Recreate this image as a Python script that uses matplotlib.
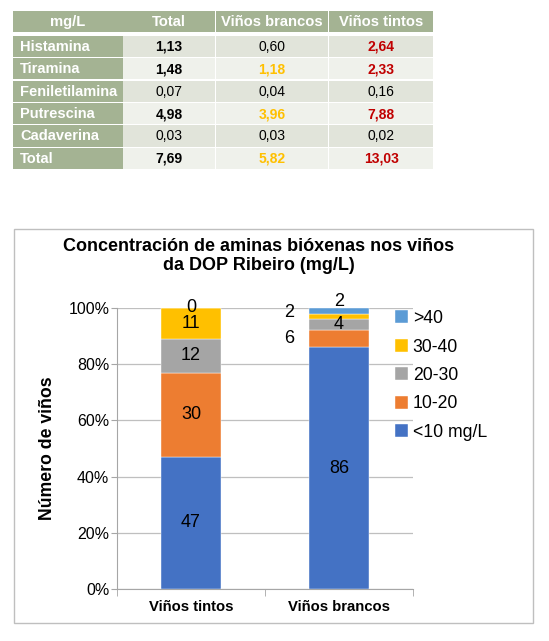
import matplotlib
matplotlib.use("Agg")
import matplotlib.pyplot as plt
from matplotlib.patches import Rectangle
import numpy as np

plt.rcParams['font.family'] = ['Liberation Sans', 'DejaVu Sans']

# ---------------- data ----------------
table_header = ["mg/L", "Total", "Viños brancos", "Viños tintos"]
table_rows = ["Histamina", "Tiramina", "Feniletilamina", "Putrescina", "Cadaverina", "Total"]
col_total = ["1,13", "1,48", "0,07", "4,98", "0,03", "7,69"]
col_brancos = ["0,60", "1,18", "0,04", "3,96", "0,03", "5,82"]
col_tintos = ["2,64", "2,33", "0,16", "7,88", "0,02", "13,03"]
# emphasis: 'b' bold black, 'n' normal black, 'o' bold orange, 'r' bold red
style_total = ["b", "b", "n", "b", "n", "b"]
style_brancos = ["n", "o", "n", "o", "n", "o"]
style_tintos = ["r", "r", "n", "r", "n", "r"]

categories = ["Viños tintos", "Viños brancos"]
series_names = ["<10 mg/L", "10-20", "20-30", "30-40", ">40"]
series_values = {
    "<10 mg/L": [47, 86],
    "10-20": [30, 6],
    "20-30": [12, 4],
    "30-40": [11, 2],
    ">40": [0, 2],
}
series_colors = {
    "<10 mg/L": "#4472C4",
    "10-20": "#ED7D31",
    "20-30": "#A5A5A5",
    "30-40": "#FFC000",
    ">40": "#5B9BD5",
}
y_ticks = [0, 20, 40, 60, 80, 100]
y_ticklabels = ["0%", "20%", "40%", "60%", "80%", "100%"]
title = "Concentración de aminas bióxenas nos viños\nda DOP Ribeiro (mg/L)"
y_label = "Número de viños"

# ---------------- figure ----------------
W, H = 549, 641
fig = plt.figure(figsize=(W / 100, H / 100), dpi=100)

# overlay axes in pixel coordinates for table and frame
ov = fig.add_axes([0, 0, 1, 1])
ov.set_xlim(0, W)
ov.set_ylim(H, 0)
ov.axis("off")

green = "#A4B393"
row_fill = ["#E1E4DA", "#EFF1EB"]
col_edges = [(13.3, 122.7), (123.3, 215), (216, 328.3), (329.3, 433.3)]
header_box = (11, 32)
row_top0, row_h, row_pitch = 35.7, 21.3, 22.4

for ci, (x0, x1) in enumerate(col_edges):
    ov.add_patch(Rectangle((x0, header_box[0]), x1 - x0, header_box[1] - header_box[0],
                           facecolor=green, edgecolor="none"))
    ov.text((x0 + x1) / 2, (header_box[0] + header_box[1]) / 2 + 0.5, table_header[ci],
            ha="center", va="center", color="white", fontweight="bold", fontsize=10.6)

color_map = {"b": ("black", "bold"), "n": ("black", "normal"),
             "o": ("#FFC000", "bold"), "r": ("#C00000", "bold")}
cols = [(col_total, style_total), (col_brancos, style_brancos), (col_tintos, style_tintos)]
for ri, name in enumerate(table_rows):
    y0 = row_top0 + ri * row_pitch
    yc = y0 + row_h / 2 + 0.5
    x0, x1 = col_edges[0]
    ov.add_patch(Rectangle((x0, y0), x1 - x0, row_h, facecolor=green, edgecolor="none"))
    ov.text(x0 + 7, yc, name, ha="left", va="center", color="white",
            fontweight="bold", fontsize=10.5)
    for ci, (vals, sty) in enumerate(cols):
        x0, x1 = col_edges[ci + 1]
        ov.add_patch(Rectangle((x0, y0), x1 - x0, row_h, facecolor=row_fill[ri % 2],
                               edgecolor="none"))
        c, w = color_map[sty[ri]]
        ov.text((x0 + x1) / 2, yc, vals[ri], ha="center", va="center", color=c,
                fontweight=w, fontsize=10)

# chart frame
ov.add_patch(Rectangle((13.5, 228.5), 519.5, 394.5, facecolor="none",
                       edgecolor="#BFBFBF", linewidth=1.0))

# ---------------- bar chart ----------------
ax_l, ax_r, ax_t, ax_b = 117, 413, 308, 589
ax = fig.add_axes([ax_l / W, 1 - ax_b / H, (ax_r - ax_l) / W, (ax_b - ax_t) / H])
ax.set_zorder(2)
ax.patch.set_alpha(0)

x = np.arange(len(categories))
bottom = np.zeros(len(categories))
bars = {}
for name in series_names:
    vals = np.array(series_values[name], dtype=float)
    bars[name] = ax.bar(x, vals, bottom=bottom, width=0.40, color=series_colors[name],
                        label=name, zorder=3, edgecolor="white", linewidth=0.3)
    bottom += vals

ax.set_xlim(-0.5, 1.5)
ax.set_ylim(0, 100)
ax.set_yticks(y_ticks)
ax.set_yticklabels(y_ticklabels, fontsize=11.5)
ax.set_xticks(x)
ax.set_xticklabels(categories, fontsize=10.7, fontweight="bold")
ax.tick_params(axis="x", length=0, pad=8)
ax.set_xticks([-0.5, 0.5, 1.5], minor=True)
ax.tick_params(axis="x", which="minor", length=5, color="#A6A6A6")
ax.tick_params(axis="y", length=4, color="#A6A6A6", pad=1.5)
ax.grid(axis="y", color="#BFBFBF", linewidth=0.9, zorder=0)
for s in ["top", "right"]:
    ax.spines[s].set_visible(False)
for s in ["left", "bottom"]:
    ax.spines[s].set_color("#A6A6A6")
ax.set_ylabel(y_label, fontsize=12.7, fontweight="bold", labelpad=9)

# data labels
px2pt = 0.72
label_offsets = {  # (series, category index) -> (dx px, dy px)
    (">40", 1): (0, 9),
    ("30-40", 1): (-50, 4),
    ("10-20", 1): (-50, 0),
}
bottom = np.zeros(len(categories))
for name in series_names:
    vals = np.array(series_values[name], dtype=float)
    for i, v in enumerate(vals):
        yc = bottom[i] + v / 2
        dx, dy = label_offsets.get((name, i), (0, 0))
        ax.annotate(f"{int(v)}", (x[i], yc), xytext=(dx * px2pt, dy * px2pt),
                    textcoords="offset points", ha="center", va="center",
                    fontsize=13, color="black", zorder=5)
    bottom += vals

# legend
handles = [bars[n] for n in reversed(series_names)]
leg = fig.legend(handles, list(reversed(series_names)), loc="upper left",
                 bbox_to_anchor=(388 / W, 1 - 303 / H), frameon=False, fontsize=12.7,
                 handlelength=0.75, handleheight=0.75, handletextpad=0.25,
                 labelspacing=0.65, borderaxespad=0)

fig.text(259 / W, 1 - 256 / H, title, ha="center", va="center", fontsize=13,
         fontweight="bold", linespacing=1.15)

fig.savefig("out.png", dpi=100)
